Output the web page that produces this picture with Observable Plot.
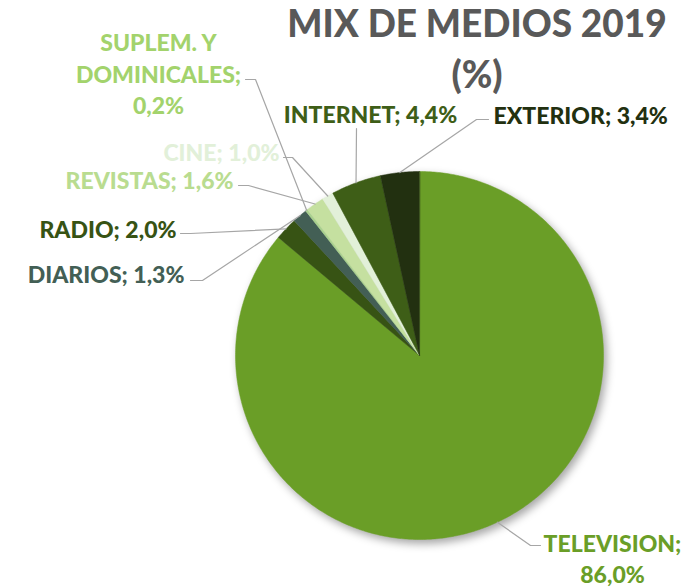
<!DOCTYPE html>
<html>
<head>
<meta charset="utf-8">
<script src="https://cdn.jsdelivr.net/npm/d3@7"></script>
<script src="https://cdn.jsdelivr.net/npm/@observablehq/plot@0.6"></script>
<style>
  html, body { margin: 0; padding: 0; background: #fff; }
  #wrap { position: relative; width: 689px; height: 587px; overflow: hidden; }
  #title { position: absolute; left: 477px; top: -3px; transform: translateX(-50%);
    font-family: Lato, "Open Sans", sans-serif; font-weight: 900; font-size: 37px;
    line-height: 51px; color: #595959; text-align: center; white-space: nowrap; }
</style>
</head>
<body>
<div id="wrap"><div id="title">MIX DE MEDIOS 2019<br>(%)</div></div>
<script>
// ---- data ----
const names = ["TELEVISION", "RADIO", "DIARIOS", "SUPLEM. Y DOMINICALES", "REVISTAS", "CINE", "INTERNET", "EXTERIOR"];
const values = [86.0, 2.0, 1.3, 0.2, 1.6, 1.0, 4.4, 3.4];
const labels = ["TELEVISION;\n86,0%", "RADIO; 2,0%", "DIARIOS; 1,3%", "SUPLEM. Y\nDOMINICALES;\n0,2%", "REVISTAS; 1,6%", "CINE; 1,0%", "INTERNET; 4,4%", "EXTERIOR; 3,4%"];

// ---- styles / layout ----
const sliceColors = ["#6a9e27", "#375314", "#435f55", "#a9d18e", "#c5e0a0", "#e2f0d9", "#3e5e17", "#223010"];
const labelColors = ["#6a9e27", "#375314", "#435f55", "#a3d36c", "#b9dc90", "#e2f0d9", "#3e5e17", "#223010"];
const W = 689, H = 587, CX = 419, CY = 355, R = 184;
const labelLayout = [
  {x: 612, y: 557, anchor: "middle", elbow: [530, 545], end: [540, 545]},
  {x: 176, y: 227, anchor: "end", elbow: [190, 233], end: [180, 233]},
  {x: 184, y: 272, anchor: "end", elbow: [202, 280], end: [190, 280]},
  {x: 158, y: 72, anchor: "middle", elbow: [255, 79], end: [245, 79]},
  {x: 233, y: 178, anchor: "end", elbow: [248, 185], end: [238, 185]},
  {x: 279, y: 150, anchor: "end", elbow: [292, 157], end: [283, 157]},
  {x: 370, y: 112, anchor: "middle", elbow: [356, 128], end: [356, 128]},
  {x: 493, y: 113, anchor: "start", elbow: [476, 119], end: [488, 119]}
];

// ---- geometry from data ----
const arcs = d3.pie().sort(null).value(d => d.value)(names.map((n, i) => ({name: n, value: values[i], i})));
const slicePts = [];
arcs.forEach(a => {
  const n = Math.max(2, Math.ceil((a.endAngle - a.startAngle) / 0.01));
  slicePts.push({name: a.data.name, x: CX, y: CY});
  for (let k = 0; k <= n; k++) {
    const t = a.startAngle + (a.endAngle - a.startAngle) * k / n;
    slicePts.push({name: a.data.name, x: CX + R * Math.sin(t), y: CY - R * Math.cos(t)});
  }
});
const leaderPts = [];
arcs.forEach((a, i) => {
  const m = (a.startAngle + a.endAngle) / 2;
  const L = labelLayout[i];
  leaderPts.push({name: a.data.name, x: CX + R * Math.sin(m), y: CY - R * Math.cos(m)});
  leaderPts.push({name: a.data.name, x: L.elbow[0], y: L.elbow[1]});
  leaderPts.push({name: a.data.name, x: L.end[0], y: L.end[1]});
});
const labelData = labels.map((t, i) => ({text: t, color: labelColors[i], ...labelLayout[i]}));

const textMarks = ["start", "middle", "end"].map(anc =>
  Plot.text(labelData.filter(d => d.anchor === anc), {
    x: "x", y: "y", text: "text", fill: "color", textAnchor: anc,
    fontSize: 23, fontWeight: 900, lineHeight: 1.36
  })
);

const chart = Plot.plot({
  width: W, height: H, margin: 0,
  x: {type: "identity", axis: null},
  y: {type: "identity", axis: null},
  color: {domain: names, range: sliceColors},
  style: {fontFamily: "Lato, 'Open Sans', sans-serif", background: "transparent"},
  marks: [
    Plot.line(slicePts, {x: "x", y: "y", z: "name", fill: "name", stroke: "name", strokeWidth: 0.5, curve: "linear-closed"}),
    Plot.line(leaderPts, {x: "x", y: "y", z: "name", stroke: "#a6a6a6", strokeWidth: 1.2}),
    ...textMarks
  ]
});
const pieG = chart.querySelector('g[aria-label="line"]');
if (pieG) pieG.setAttribute("style", "filter: drop-shadow(3px 4px 4px rgba(0,0,0,0.35))");
document.getElementById("wrap").prepend(chart);
</script>
</body>
</html>
